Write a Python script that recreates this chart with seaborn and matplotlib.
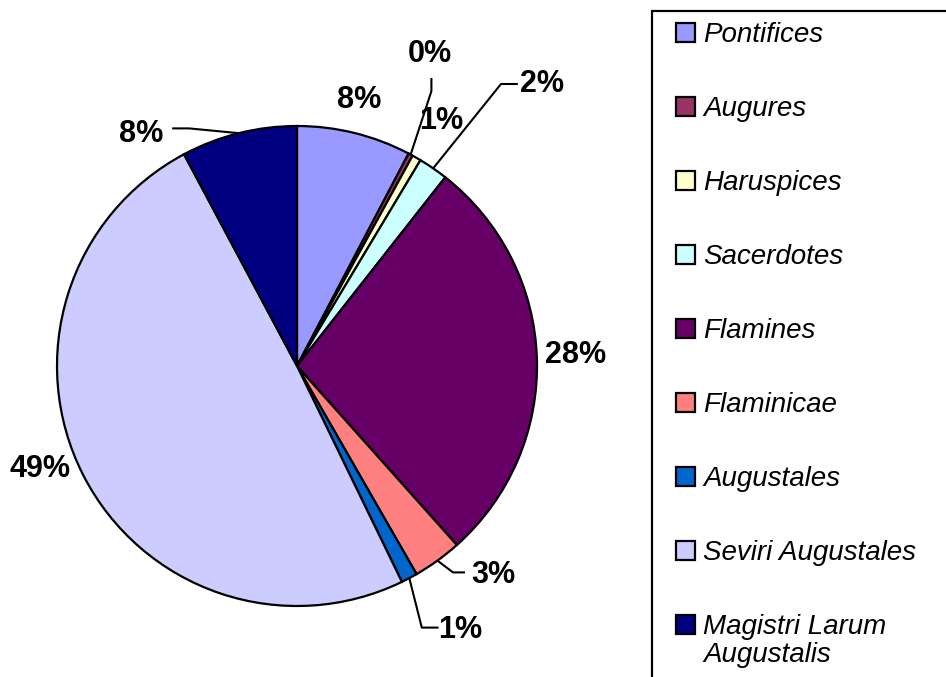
import numpy as np
import matplotlib.pyplot as plt
from matplotlib.patches import Rectangle
import seaborn as sns

# share of priesthoods (percent)
categories = ["Pontifices", "Augures", "Haruspices", "Sacerdotes", "Flamines",
              "Flaminicae", "Augustales", "Seviri Augustales",
              "Magistri Larum"]
last_line = "Augustalis"  # second line of the last legend entry
shares = [7.7, 0.3, 0.6, 2.0, 27.8, 3.3, 1.1, 49.4, 7.8]
colors = ["#9999FF", "#993366", "#FFFFCC", "#CCFFFF", "#660066",
          "#FF8080", "#0066CC", "#CCCCFF", "#000080"]

# label placement (pie radius = 1), elbow of leader line or None
label_pos = [(0.26, 1.11), (0.555, 1.30), (0.60, 1.02), (1.02, 1.175),
             (1.16, 0.045), (0.82, -0.87), (0.68, -1.10), (-1.07, -0.43),
             (-0.65, 0.965)]
leaders = [None, [(0.56, 1.20), (0.56, 1.145)], None,
           [(0.92, 1.175), (0.85, 1.175)], None,
           [(0.70, -0.86), (0.65, -0.86)], [(0.59, -1.09), (0.52, -1.09)],
           None, [(-0.52, 0.99), (-0.45, 0.99)]]

sns.set_theme(style="white")
plt.rcParams["font.family"] = ["Liberation Sans", "DejaVu Sans"]
plt.rcParams["text.color"] = "black"

W, H, R = 946, 677, 240.0
cx, cy = 297, 366
fig = plt.figure(figsize=(W / 100, H / 100), dpi=100)
ax = fig.add_axes([0, 0, 1, 1])

wedges, _ = ax.pie(shares, colors=colors, startangle=90, counterclock=False,
                   radius=1, wedgeprops=dict(edgecolor="black", linewidth=1.6))
ax.set_aspect("auto")
ax.set_xlim(-cx / R, (W - cx) / R)
ax.set_ylim(-(H - cy) / R, cy / R)
ax.axis("off")

total = float(sum(shares))
cum = np.cumsum([0] + shares[:-1])
for i, v in enumerate(shares):
    pct = "%d%%" % round(v / total * 100)
    tx, ty = label_pos[i]
    ax.text(tx, ty, pct, ha="center", va="center", fontsize=22,
            fontweight="bold", color="black")
    if leaders[i] is not None:
        mid = (cum[i] + v / 2) / total * 2 * np.pi
        ex, ey = np.sin(mid), np.cos(mid)
        pts = [(ex, ey)] + leaders[i][::-1]
        xs = [p[0] for p in pts]
        ys = [p[1] for p in pts]
        ax.plot(xs, ys, color="black", lw=1.5, solid_capstyle="butt")

# legend frame runs off the right and bottom edges
fig.patches.append(Rectangle((652 / W, -0.05), 0.5, 1.05 - 11 / H,
                             transform=fig.transFigure, fill=False,
                             edgecolor="black", linewidth=1.6))

leg = fig.legend(wedges, categories, loc="upper left",
                 bbox_to_anchor=(676 / W, 1 - 22 / H), frameon=False,
                 prop=dict(size=20, style="italic"), handlelength=0.68,
                 handleheight=0.68, handletextpad=0.3, labelspacing=1.73,
                 borderpad=0, borderaxespad=0)
for h in leg.legend_handles:
    h.set_edgecolor("black")
    h.set_linewidth(1.6)
for t in leg.get_texts():
    t.set_color("black")

# continuation line of the last entry, under its text
fig.canvas.draw()
bb = leg.get_texts()[-1].get_window_extent()
fig.text(bb.x0 / W, (bb.y0 - 2) / H, last_line, ha="left", va="top",
         fontsize=20, style="italic", color="black")

fig.savefig("out.png", dpi=100)
